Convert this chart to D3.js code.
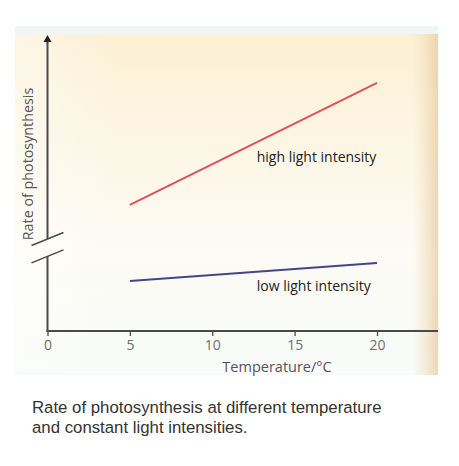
<!DOCTYPE html>
<html><head><meta charset="utf-8">
<script src="https://cdn.jsdelivr.net/npm/d3@7"></script>
<style>body{margin:0;background:#fff}svg{display:block}</style>
</head><body>
<script>
// ---- data ----
const temperatures = [5, 20];
const highLight = [42.6, 83.8];
const lowLight = [16.9, 23.0];
const xTicks = [0, 5, 10, 15, 20];
const seriesNames = ["high light intensity", "low light intensity"];
const xTitle = "Temperature/°C";
const yTitle = "Rate of photosynthesis";
const caption = ["Rate of photosynthesis at different temperature", "and constant light intensities."];

const W = 459, H = 466;
const svg = d3.select("body").append("svg").attr("width", W).attr("height", H);
const defs = svg.append("defs");

// scanned page background
const gV = defs.append("linearGradient").attr("id","gv").attr("x1",0).attr("y1",0).attr("x2",0).attr("y2",1);
gV.append("stop").attr("offset",0).attr("stop-color","#fcefd2");
gV.append("stop").attr("offset",0.3).attr("stop-color","#fdf5e3");
gV.append("stop").attr("offset",0.65).attr("stop-color","#fcfbf4");
gV.append("stop").attr("offset",1).attr("stop-color","#f8fbf9");
const gH = defs.append("linearGradient").attr("id","gh").attr("x1",0).attr("y1",0).attr("x2",1).attr("y2",0);
gH.append("stop").attr("offset",0).attr("stop-color","#ffffff").attr("stop-opacity",0.4);
gH.append("stop").attr("offset",0.25).attr("stop-color","#ffffff").attr("stop-opacity",0);
gH.append("stop").attr("offset",0.94).attr("stop-color","#f3dcb4").attr("stop-opacity",0);
gH.append("stop").attr("offset",1).attr("stop-color","#e9cda6").attr("stop-opacity",0.8);
svg.append("rect").attr("x",15).attr("y",26).attr("width",423).attr("height",349).attr("fill","url(#gv)");
svg.append("rect").attr("x",15).attr("y",26).attr("width",423).attr("height",349).attr("fill","url(#gh)");
svg.append("rect").attr("x",15).attr("y",26).attr("width",423).attr("height",8).attr("fill","#eef6f8");

// ---- scales ----
const x = d3.scaleLinear().domain([0, 20]).range([47.5, 377]);
const y = d3.scaleLinear().domain([0, 100]).range([331, 35]);
const axisColor = "#4a4a4a";
const labelFont = "'Open Sans', sans-serif";

// x axis
const xAxis = svg.append("g").attr("transform", `translate(0,${y(0)})`)
  .call(d3.axisBottom(x).tickValues(xTicks).tickSize(5).tickPadding(4).tickFormat(d3.format("d")));
xAxis.select(".domain").remove();
xAxis.selectAll(".tick line").attr("stroke", axisColor).attr("stroke-width", 1.3);
xAxis.selectAll(".tick text").attr("fill", "#6e6e6e").style("font-family", labelFont).style("font-size", "14px");
svg.append("line").attr("x1", x(0)-1).attr("x2", 438).attr("y1", y(0)).attr("y2", y(0))
  .attr("stroke", axisColor).attr("stroke-width", 2);

// y axis with break and arrow
const breakLo = 25.2, breakHi = 31.1;
svg.append("line").attr("x1", x(0)).attr("x2", x(0)).attr("y1", y(0)+1).attr("y2", y(breakLo))
  .attr("stroke", axisColor).attr("stroke-width", 2);
svg.append("line").attr("x1", x(0)).attr("x2", x(0)).attr("y1", y(breakHi)).attr("y2", y(98))
  .attr("stroke", axisColor).attr("stroke-width", 2);
svg.append("path")
  .attr("d", `M${x(0)},${y(100)} L${x(0)-4},${y(100)+7} L${x(0)+4},${y(100)+7} Z`)
  .attr("fill", "#222");
[breakLo, breakHi].forEach(v => {
  svg.append("line").attr("x1", x(0)-16).attr("y1", y(v)+6.5).attr("x2", x(0)+16).attr("y2", y(v)-6.5)
    .attr("stroke", axisColor).attr("stroke-width", 1.5);
});

// series lines
const line = d3.line().x((d,i) => x(temperatures[i])).y(d => y(d));
svg.append("path").datum(highLight).attr("d", line).attr("fill","none")
  .attr("stroke", "#e0505a").attr("stroke-width", 2);
svg.append("path").datum(lowLight).attr("d", line).attr("fill","none")
  .attr("stroke", "#45458c").attr("stroke-width", 2);

// series labels
svg.append("text").attr("x", x(12.7)).attr("y", y(57.1)).text(seriesNames[0])
  .attr("fill", "#222").style("font-family",labelFont).style("font-size","14px");
svg.append("text").attr("x", x(12.7)).attr("y", y(13.5)).text(seriesNames[1])
  .attr("fill", "#222").style("font-family",labelFont).style("font-size","14px");

// axis titles
svg.append("text").attr("x", 277).attr("y", 372).attr("text-anchor","middle").text(xTitle)
  .attr("fill","#555").style("font-family",labelFont).style("font-size","14.5px");
svg.append("text").attr("transform","translate(33,164) rotate(-90)").attr("text-anchor","middle").text(yTitle)
  .attr("fill","#555").style("font-family",labelFont).style("font-size","14.3px");

// caption
caption.forEach((t,i) => {
  svg.append("text").attr("x", 32).attr("y", 413 + i*20).text(t)
    .attr("fill","#333").style("font-family","'Liberation Sans', Arial, sans-serif").style("font-size","16.8px");
});
</script>
</body></html>
